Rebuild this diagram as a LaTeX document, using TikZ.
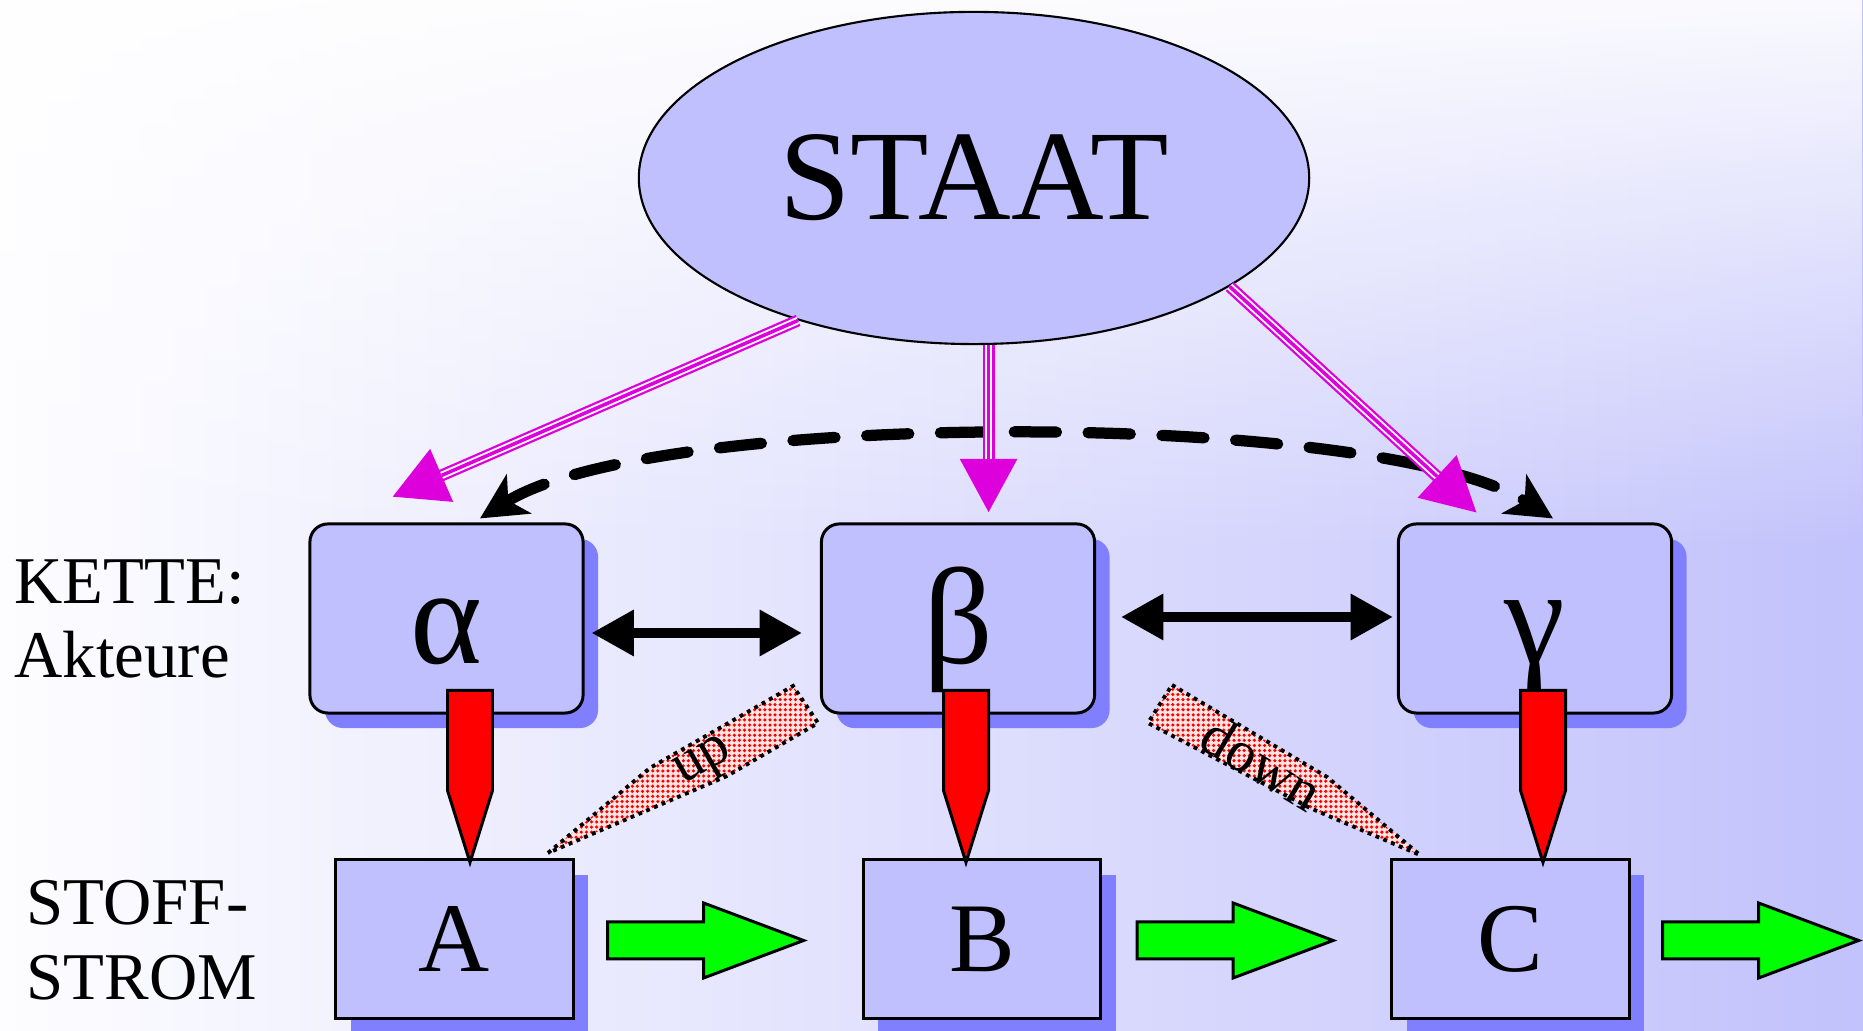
\documentclass[tikz,border=0pt]{standalone}
\usepackage{fontspec}
\setmainfont{Liberation Serif}
\usetikzlibrary{arrows.meta,shapes.geometric,shadows,calc,patterns.meta,fadings}
\definecolor{boxc}{RGB}{192,192,255}
\definecolor{shadc}{RGB}{128,128,255}
\definecolor{magc}{RGB}{221,0,221}
\definecolor{bgL}{RGB}{253,253,255}
\definecolor{bgM}{RGB}{234,234,253}
\definecolor{bgR}{RGB}{194,194,252}
\definecolor{pinkc}{RGB}{255,228,228}
\tikzfading[name=topfade, top color=transparent!8, bottom color=transparent!100]
\begin{document}
\begin{tikzpicture}[x=0.01cm,y=0.01cm,
  actor/.style={draw=black, line width=0.85pt, fill=boxc, rounded corners=0.18cm,
    minimum width=2.73cm, minimum height=1.89cm, inner sep=0pt,
    text height=1.0cm, text depth=0.11cm, font=\fontsize{39}{44}\selectfont,
    drop shadow={shadow xshift=0.15cm, shadow yshift=-0.15cm, fill=shadc, opacity=1}},
  stoff/.style={draw=black, line width=0.85pt, fill=boxc,
    minimum width=2.37cm, minimum height=1.58cm, inner sep=0pt,
    font=\fontsize{28}{34}\selectfont,
    drop shadow={shadow xshift=0.15cm, shadow yshift=-0.15cm, fill=shadc, opacity=1}},
  magarrow/.style={draw=magc, line width=3.4pt,
    -{Triangle[length=15.4pt,width=15.4pt]},
    postaction={draw=white, line width=2.1pt, shorten >=15.4pt, -},
    postaction={draw=magc, line width=1pt, shorten >=15.4pt, -}},
  dasharrow/.style={draw=black, line width=3.2pt, line cap=round,
    dash pattern=on 12pt off 9pt,
    {Stealth[length=13pt,width=13pt,inset=3.5pt]}-{Stealth[length=13pt,width=13pt,inset=3.5pt]}},
  dblarrow/.style={draw=black, line width=2.7pt,
    {Triangle[length=12pt,width=12.5pt]}-{Triangle[length=12pt,width=12.5pt]}},
  redarr/.style={fill=red, draw=black, line width=0.85pt, line join=miter},
  greenarr/.style={fill={rgb,255:red,0;green,255;blue,0}, draw=black, line width=0.85pt, line join=miter},
  updown/.style={preaction={fill=pinkc}, pattern={Dots[distance=1.45pt,radius=0.5pt]},
    pattern color=red, draw=black, line width=1.1pt, dash pattern=on 1.1pt off 1.3pt},
  lbl/.style={font=\fontsize{19}{21.3}\selectfont, align=left, inner sep=0pt, anchor=west},
  small/.style={font=\fontsize{16.5}{18}\selectfont, inner sep=0pt}
]
\useasboundingbox (0,0) rectangle (1863,1031);
\shade[left color=bgL, middle color=bgM, right color=bgR] (0,0) rectangle (1863,1031);
\fill[white, path fading=topfade] (0,480) rectangle (1863,1031);

% STAAT
\node[ellipse, draw=black, line width=0.6pt, fill=boxc, minimum width=6.7cm,
  minimum height=3.32cm, inner sep=0pt, font=\fontsize{36.5}{42}\selectfont] (staat) at (974,853) {STAAT};

% actors
\node[actor] (alpha) at (446.5,412.5) {α};
\node[actor] (beta)  at (958,412.5) {β};
\node[actor] (gamma) at (1535,412.5) {γ};

% material flow
\node[stoff] (A) at (454.5,92) {A};
\node[stoff] (B) at (982,92) {B};
\node[stoff] (C) at (1510.5,92) {C};

% dashed arc
\draw[dasharrow] ([shift={(33.5,4)}]alpha.north) .. controls +(175,110) and +(-175,110) .. ([shift={(18,4)}]gamma.north);

% magenta arrows
\coordinate (mtA) at (392,534);
\coordinate (mtC) at (1477,518);
\draw[magarrow] (staat.219) -- (mtA);
\draw[magarrow] (staat.275) -- ++(0,-168);
\draw[magarrow] (staat.337) -- (mtC);

% black double arrows
\draw[dblarrow] ($(alpha.east)+(7,-14.5)$) -- ($(beta.west)+(-18,-14.5)$);
\draw[dblarrow] ($(beta.east)+(25,1.5)$) -- ($(gamma.west)+(-4,1.5)$);

% red arrows
\draw[redarr] ($(A.north)+(15.5,-4)$) -- ++(-22.5,72) -- ++(0,100) -- ++(45,0) -- ++(0,-100) -- cycle;
\draw[redarr] ($(B.north)+(-16,-4)$) -- ++(-22.5,72) -- ++(0,100) -- ++(45,0) -- ++(0,-100) -- cycle;
\draw[redarr] ($(C.north)+(32.5,-4)$) -- ++(-22.5,72) -- ++(0,100) -- ++(45,0) -- ++(0,-100) -- cycle;

% green arrows
\draw[greenarr] ($(A.east)+(33,-20)$) -- ++(96,0) -- ++(0,-19) -- ++(100,37.5) -- ++(-100,37.5) -- ++(0,-19) -- ++(-96,0) -- cycle;
\draw[greenarr] ($(B.east)+(35,-20)$) -- ++(96,0) -- ++(0,-19) -- ++(100,37.5) -- ++(-100,37.5) -- ++(0,-19) -- ++(-96,0) -- cycle;
\draw[greenarr] ($(C.east)+(32,-20)$) -- ++(96,0) -- ++(0,-19) -- ++(100,37.5) -- ++(-100,37.5) -- ++(0,-19) -- ++(-96,0) -- cycle;

% up / down
\draw[updown] (548,178) -- (650,263) -- (793,345) -- (818,308) -- (727,255) -- cycle;
\draw[updown] (1172,346) -- (1327,254) -- (1420,176) -- (1310,223) -- (1148,308) -- cycle;
\node[small, rotate=30] (up) at (705,267) {up};
\node[small, rotate=-31] (down) at (1262,268) {down};

% side labels
\node[lbl] (kette) at (14,412) {KETTE:\\Akteure};
\node[lbl] (stoffl) at (26,91) {STOFF-\\STROM};
\end{tikzpicture}
\end{document}
